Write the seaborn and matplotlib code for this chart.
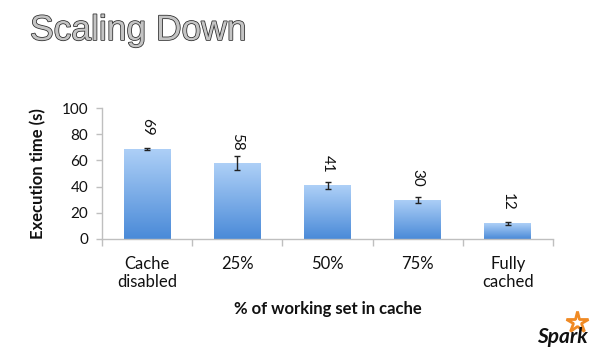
import numpy as np
import matplotlib
matplotlib.use("Agg")
import matplotlib.pyplot as plt
import matplotlib.patheffects as pe
from matplotlib.colors import LinearSegmentedColormap
from matplotlib.lines import Line2D
import seaborn as sns

categories = ["Cache\ndisabled", "25%", "50%", "75%", "Fully\ncached"]
exec_time = [69, 58, 41, 30, 12]
err = [0.8, 5.2, 2.8, 2.3, 1.3]
yticks = [0, 20, 40, 60, 80, 100]

sns.set_style("white")
plt.rcParams["font.family"] = ["Lato", "DejaVu Sans"]

fig = plt.figure(figsize=(6.01, 3.55), dpi=100)
ax = fig.add_axes([102/601, 1-239/355, (553-102)/601, (239-108)/355])

sns.barplot(x=categories, y=exec_time, color="#6fa6e6", width=0.52, ax=ax,
            errorbar=None, saturation=1)

cmap = LinearSegmentedColormap.from_list("g", ["#4a8ad8", "#aed0f7"])
grad = np.linspace(0, 1, 256).reshape(-1, 1)
for p in ax.patches:
    x0, y0 = p.get_x(), p.get_y()
    w, h = p.get_width(), p.get_height()
    im = ax.imshow(grad, cmap=cmap, origin="lower", aspect="auto",
                   extent=[x0, x0 + w, y0, y0 + h], zorder=p.get_zorder() + 0.1)
    im.set_clip_path(p)
    p.set_edgecolor("none")

xs = np.arange(len(categories))
ax.errorbar(xs, exec_time, yerr=err, fmt="none", ecolor="#222222",
            elinewidth=1, capsize=2.5, capthick=1, zorder=5)

for x, v in zip(xs, exec_time):
    ax.annotate(str(v), (x, v), xytext=(0, 9), textcoords="offset points",
                rotation=270, ha="center", va="bottom", fontsize=11,
                color="#111111")

ax.set_xlim(-0.5, len(categories) - 0.5)
ax.set_ylim(0, 100)
ax.set_yticks(yticks)
ax.set_yticklabels([str(t) for t in yticks], fontsize=11)
ax.set_xticks(xs)
ax.set_xticklabels(categories, fontsize=12)
ax.set_xticks(np.arange(-0.5, len(categories)), minor=True)
ax.tick_params(axis="x", which="major", length=0, pad=12, colors="#111111")
ax.tick_params(axis="x", which="minor", length=5, color="#bfbfbf", width=1,
               direction="out", bottom=True)
ax.tick_params(axis="y", length=4, width=1, direction="out", left=True,
               pad=6, labelcolor="#111111", color="#bfbfbf")

for s in ["top", "right"]:
    ax.spines[s].set_visible(False)
for s in ["left", "bottom"]:
    ax.spines[s].set_color("#bfbfbf")
    ax.spines[s].set_linewidth(1)

ax.set_xlabel("% of working set in cache", fontsize=12, fontweight="bold",
              color="#111111", labelpad=8)
ax.set_ylabel("Execution time (s)", fontsize=12, fontweight="bold",
              color="#111111", labelpad=11)

t = fig.text(30/601, 1-40/355, "Scaling Down", fontsize=25.5,
             family=["Liberation Sans", "DejaVu Sans"], color="#c4c4c4",
             va="baseline", ha="left")
t.set_path_effects([pe.Stroke(linewidth=1.1, foreground="#2a2a2a"), pe.Normal()])

fig.text(537/601, 1-343/355, "Spark", fontsize=15, fontweight="bold",
         style="italic", color="#111111", va="baseline", ha="left")
star = Line2D([577/601], [1-322/355], marker="*", markersize=16,
              markerfacecolor="white", markeredgecolor="#f08a24",
              markeredgewidth=2, transform=fig.transFigure)
fig.add_artist(star)

fig.savefig("out.png", dpi=100)
